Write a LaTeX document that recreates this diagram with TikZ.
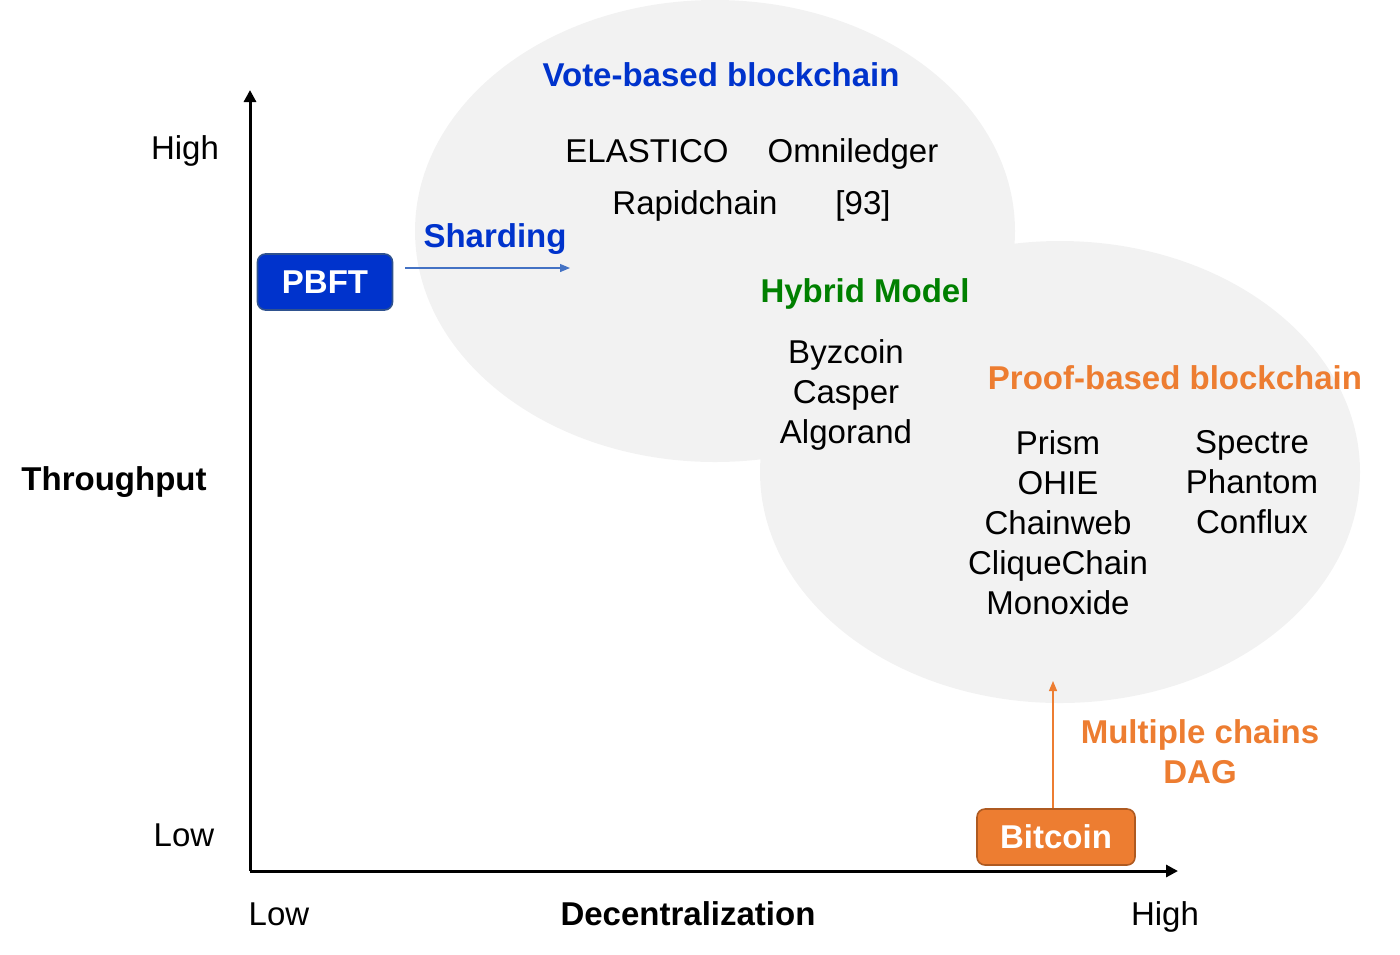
\documentclass[tikz,border=0pt]{standalone}
\usepackage{fontspec}
\setmainfont{Liberation Sans}
\usepackage{xcolor}
\usetikzlibrary{shapes,arrows.meta,positioning,calc}

\definecolor{voteblue}{HTML}{0033CC}
\definecolor{boxborder}{HTML}{2F528F}
\definecolor{shardblue}{HTML}{4472C4}
\definecolor{prooforange}{HTML}{ED7D31}
\definecolor{orangeborder}{HTML}{AE5A21}
\definecolor{hybridgreen}{HTML}{008000}
\definecolor{cloudgray}{HTML}{F2F2F2}

\begin{document}
\begin{tikzpicture}[
    x=0.5pt, y=-0.5pt,
    txt/.style={font=\fontsize{16.5}{20}\selectfont, align=center, inner sep=0pt, text height=11.9pt, text depth=0pt},
    bold/.style={txt, font=\fontsize{16.5}{20}\selectfont\bfseries},
    stack/.style={font=\fontsize{16.5}{20}\selectfont, align=center, inner sep=0pt, anchor=north},
    cloud/.style={ellipse, fill=cloudgray, minimum width=300pt, minimum height=231pt, inner sep=0pt},
    tag/.style={rectangle, rounded corners=4pt, line width=0.8pt, text=white, font=\fontsize{16.5}{20}\selectfont\bfseries, minimum width=67.5pt, minimum height=28pt},
    axis/.style={line width=1.5pt, -{Triangle[length=6pt, width=6pt]}},
    arrow/.style={line width=0.6pt, -{Triangle[length=5pt, width=4pt]}},
]
    \useasboundingbox (0,0) rectangle (1400,954);

    % background clouds
    \node[cloud] (vote) at (715,231) {};
    \node[cloud] (proof) at (1060,472) {};

    % axes
    \coordinate (origin) at (250,871);
    \coordinate (ytop) at (250,90);
    \coordinate (xend) at (1178,871);
    \draw[axis] (origin) -- (ytop);
    \draw[axis] (origin) -- (xend);

    \node[txt] (yhigh) at (185,148) {High};
    \node[txt] (ylow) at (184,835) {Low};
    \node[bold] (ylabel) at (114,479) {Throughput};
    \node[txt] (xlow) at (279,914) {Low};
    \node[bold] (xlabel) at (688,914) {Decentralization};
    \node[txt] (xhigh) at (1165,914) {High};

    % vote-based
    \node[bold, text=voteblue] (votetitle) at (721,75) {Vote-based blockchain};
    \node[txt] (elastico) at (647,151) {ELASTICO};
    \node[txt] (omni) at (853,151) {Omniledger};
    \node[txt] (rapid) at (695,203) {Rapidchain};
    \node[txt] (ref) at (863,203) {[93]};

    % hybrid
    \node[bold, text=hybridgreen] (hybrid) at (865,291) {Hybrid Model};
    \node[stack] (hyblist) at (846,339) {Byzcoin\\Casper\\Algorand};

    % proof-based
    \node[bold, text=prooforange] (prooftitle) at (1175,378) {Proof-based blockchain};
    \node[stack] (chains) at (1058,430) {Prism\\OHIE\\Chainweb\\CliqueChain\\Monoxide};
    \node[stack] (dags) at (1252,430) {Spectre\\Phantom\\Conflux};

    % PBFT and sharding
    \node[tag, fill=voteblue, draw=boxborder] (pbft) at (325,282) {PBFT};
    \node[bold, text=voteblue] (sharding) at (495,236) {Sharding};
    \coordinate (shardstart) at (405,268);
    \coordinate (shardend) at (570,268);
    \draw[arrow, shardblue] (shardstart) -- (shardend);

    % Bitcoin
    \node[tag, fill=prooforange, draw=orangeborder, minimum width=79pt] (bitcoin) at (1056,837) {Bitcoin};
    \coordinate (btcup) at (1053,681);
    \draw[arrow, prooforange] (bitcoin.north -| btcup) -- (btcup);
    \node[stack, font=\fontsize{16.5}{20}\selectfont\bfseries, text=prooforange] (multi) at (1200,719) {Multiple chains\\DAG};
\end{tikzpicture}
\end{document}
